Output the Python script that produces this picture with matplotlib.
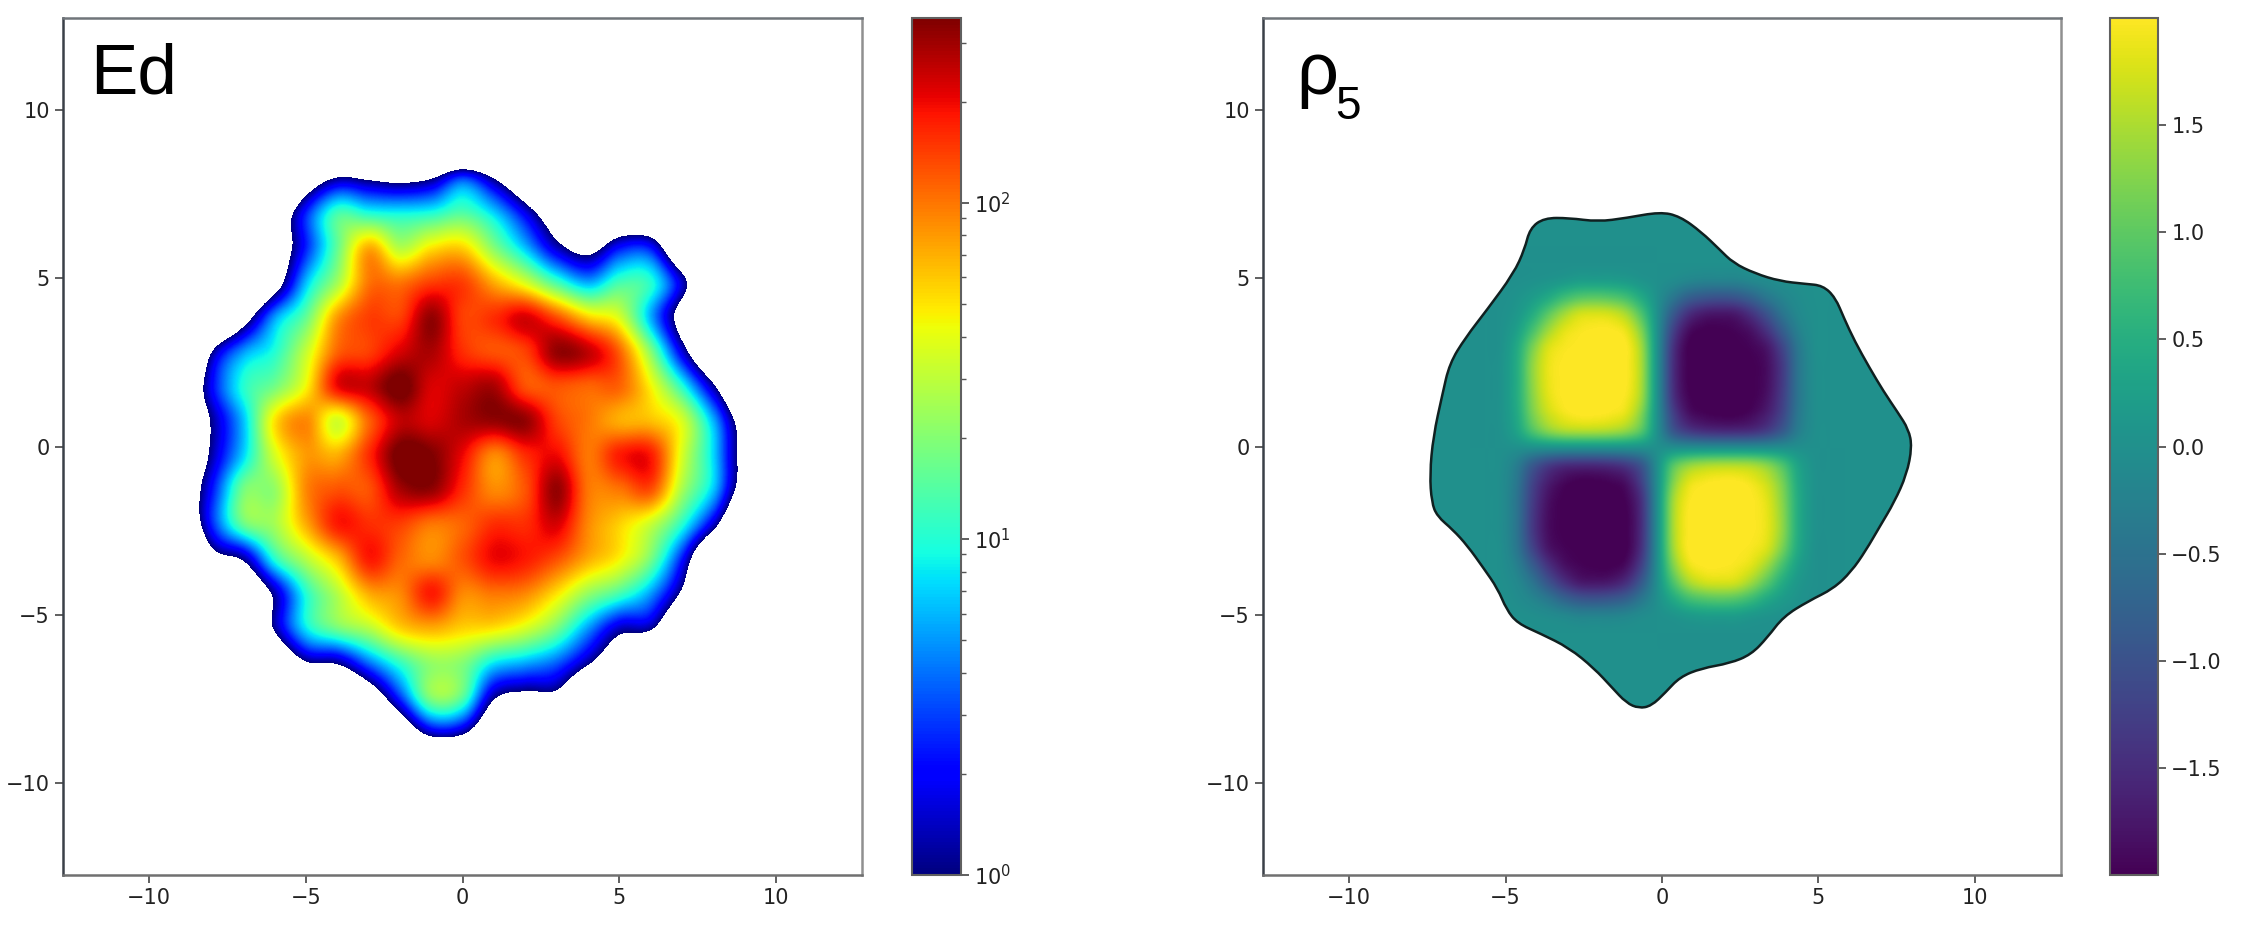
import numpy as np
import matplotlib
matplotlib.use("Agg")
import matplotlib.pyplot as plt
from matplotlib.colors import LogNorm, Normalize
from matplotlib.cm import ScalarMappable
from matplotlib.path import Path
from matplotlib.patches import PathPatch

W, H = 2250, 932
TICKS = [-10, -5, 0, 5, 10]
AX_LIM = 12.75

# log10(Ed), x = -9..9, rows from the top of the field down
edLog10 = [
    [-1.5, -1.5, -1.5, -1.5, -1.5, -1.5, -1.5, -1.5, -1.5, -1.5, -1.5, -1.5, -1.5, -1.5, -1.5, -1.5, -1.5, -1.5, -1.5],
    [-1.5, -1.5, -1.5, -1.5, -0.5, 0.05, -0.05, -0.15, 0.0, 0.5, 0.0, -0.7, -1.5, -1.5, -1.5, -1.5, -1.5, -1.5, -1.5],
    [-1.5, -1.5, -1.5, -0.6, 0.4, 1.1, 1.0, 0.95, 1.0, 1.15, 0.85, 0.25, -0.5, -1.2, -0.8, -0.9, -1.5, -1.5, -1.5],
    [-1.5, -1.5, -1.3, -0.5, 0.4, 1.2, 1.85, 1.45, 1.7, 1.75, 1.3, 0.8, 0.15, -0.2, 0.35, 0.35, -0.8, -1.5, -1.5],
    [-1.5, -1.5, -1.2, -0.3, 0.8, 1.4, 2.0, 2.0, 2.15, 2.15, 1.85, 1.55, 1.1, 0.75, 1.1, 1.0, 0.15, -1.0, -1.5],
    [-1.5, -1.2, -0.3, 0.7, 1.2, 1.9, 2.15, 2.15, 2.5, 2.15, 2.2, 2.35, 2.1, 1.75, 1.55, 0.75, -0.3, -1.5, -1.5],
    [-1.5, 0.0, 0.7, 1.0, 1.5, 2.05, 2.15, 2.35, 2.45, 2.2, 2.1, 2.15, 2.5, 2.4, 2.05, 1.3, 0.2, -0.9, -1.5],
    [-0.8, 0.3, 1.0, 1.25, 1.65, 2.3, 2.4, 2.6, 2.35, 2.4, 2.45, 2.1, 2.1, 2.05, 2.05, 1.65, 1.0, 0.05, -1.0],
    [-0.8, 0.05, 0.8, 1.7, 1.95, 1.55, 2.05, 2.4, 2.35, 2.45, 2.5, 2.5, 2.15, 2.0, 1.85, 1.8, 1.55, 0.75, -0.3],
    [-0.8, 0.1, 0.85, 1.55, 1.9, 1.85, 2.2, 2.6, 2.55, 2.3, 1.95, 2.2, 2.3, 2.0, 2.25, 2.25, 1.55, 0.85, -0.2],
    [-0.5, 0.35, 1.25, 1.35, 1.95, 2.1, 2.1, 2.45, 2.5, 2.2, 1.95, 2.1, 2.5, 2.0, 2.0, 2.1, 1.4, 0.8, -0.3],
    [-0.7, 0.4, 1.2, 1.4, 1.85, 2.25, 2.2, 2.15, 2.0, 2.05, 2.2, 2.2, 2.35, 1.95, 1.75, 1.5, 1.0, 0.15, -1.0],
    [-1.5, -0.3, 0.05, 1.0, 1.45, 1.8, 2.25, 2.05, 1.95, 2.1, 2.3, 2.25, 2.1, 1.85, 1.65, 1.25, 0.35, -1.0, -1.5],
    [-1.5, -1.5, -0.8, 0.1, 1.0, 1.45, 1.85, 1.95, 2.25, 1.95, 2.0, 1.95, 1.7, 1.35, 1.1, 0.7, -0.1, -1.3, -1.5],
    [-1.5, -1.5, -1.0, 0.05, 0.9, 1.25, 1.45, 1.75, 1.85, 1.75, 1.7, 1.55, 1.25, 0.7, 0.15, 0.05, -0.9, -1.5, -1.5],
    [-1.5, -1.5, -1.5, -0.8, -0.05, 0.05, 0.6, 1.05, 1.35, 1.3, 0.9, 0.75, 0.55, 0.05, -0.6, -1.2, -1.5, -1.5, -1.5],
    [-1.5, -1.5, -1.5, -1.5, -1.5, -1.2, -0.5, 0.45, 1.3, 1.15, 0.05, -0.2, -0.2, -1.0, -1.5, -1.5, -1.5, -1.5, -1.5],
    [-1.5, -1.5, -1.5, -1.5, -1.5, -1.5, -1.5, -0.6, 0.2, 0.1, -0.8, -1.5, -1.5, -1.5, -1.5, -1.5, -1.5, -1.5, -1.5],
    [-1.5, -1.5, -1.5, -1.5, -1.5, -1.5, -1.5, -1.5, -1.5, -1.5, -1.5, -1.5, -1.5, -1.5, -1.5, -1.5, -1.5, -1.5, -1.5],
]
ED_MIN, ED_MAX = 1.0, 355.0

# rho5 magnitude in one quadrant, away from the centre of the pattern, 0.5 steps
rhoQuadrant = [
    [0, 0, 0, 0, 0, 0, 0, 0, 0, 0, 0, 0],
    [0, 0.9, 1.3, 1.45, 1.5, 1.5, 1.45, 1.25, 0.85, 0.3, 0.03, 0],
    [0, 1.2, 1.8, 1.95, 2, 2, 1.9, 1.65, 1.15, 0.4, 0.05, 0],
    [0, 1.4, 1.95, 2, 2, 2, 2, 1.8, 1.25, 0.45, 0.05, 0],
    [0, 1.45, 2, 2, 2, 2, 2, 1.85, 1.3, 0.45, 0.05, 0],
    [0, 1.45, 2, 2, 2, 2, 2, 1.85, 1.3, 0.45, 0.05, 0],
    [0, 1.4, 2, 2, 2, 2, 1.95, 1.75, 1.15, 0.4, 0.03, 0],
    [0, 1.2, 1.85, 2, 2, 1.95, 1.8, 1.4, 0.8, 0.25, 0.02, 0],
    [0, 0.85, 1.45, 1.7, 1.75, 1.7, 1.4, 0.95, 0.45, 0.12, 0.01, 0],
    [0, 0.4, 0.75, 0.9, 0.95, 0.9, 0.7, 0.4, 0.18, 0.05, 0, 0],
    [0, 0.06, 0.15, 0.2, 0.2, 0.2, 0.12, 0.06, 0.02, 0, 0, 0],
    [0, 0, 0, 0, 0, 0, 0, 0, 0, 0, 0, 0],
]
RHO_CENTER = (-0.17, -0.05)
RHO_LIM = 2.0

boundaryX = [-0.06, 0.57, 1.26, 1.83, 2.28, 2.97, 3.77, 4.57, 5.14, 5.54, 5.82, 6.16, 6.62, 7.08, 7.53,
             7.88, 7.99, 7.82, 7.42, 6.96, 6.51, 6.05, 5.48, 4.68, 3.88, 3.37, 2.85, 2.17, 1.26, 0.57,
             0.11, -0.34, -0.74, -1.14, -1.60, -2.17, -2.97, -3.88, -4.62, -4.97, -5.25, -5.71, -6.22,
             -6.68, -7.19, -7.36, -7.42, -7.31, -7.02, -6.79, -6.28, -5.59, -4.74, -4.39, -4.22, -3.77,
             -2.97, -2.05, -1.14]
boundaryY = [6.98, 6.85, 6.38, 5.87, 5.46, 5.15, 4.92, 4.84, 4.79, 4.43, 3.81, 3.13, 2.36, 1.64, 1.02,
             0.51, -0.01, -0.83, -1.66, -2.38, -3.10, -3.72, -4.23, -4.60, -5.06, -5.68, -6.19, -6.45,
             -6.60, -6.86, -7.32, -7.72, -7.79, -7.63, -7.17, -6.60, -5.99, -5.57, -5.26, -4.85, -4.23,
             -3.61, -2.95, -2.48, -2.07, -1.66, -0.83, 0.30, 1.54, 2.47, 3.24, 4.07, 5.15, 5.87, 6.49,
             6.80, 6.80, 6.69, 6.80]


def makeAxes(fig, left, right, top=18, bottom=875):
    return fig.add_axes([left / W, 1 - bottom / H, (right - left) / W, (bottom - top) / H])


def styleMain(ax):
    ax.set_xlim(-AX_LIM, AX_LIM)
    ax.set_ylim(-AX_LIM, AX_LIM)
    ax.set_xticks(TICKS)
    ax.set_yticks(TICKS)
    ax.tick_params(labelsize=15, length=6, width=1.2, color="#444444", labelcolor="#222222")
    for side, col in (("left", "#3a4048"), ("top", "#70757a"), ("right", "#909090"), ("bottom", "#707070")):
        ax.spines[side].set_color(col)
        ax.spines[side].set_linewidth(1.8)


def styleCbar(cbar):
    cbar.ax.tick_params(which="major", labelsize=15, length=6, width=1.2, color="#444444", labelcolor="#222222")
    cbar.ax.tick_params(which="minor", length=3.5, width=1, color="#555555")
    cbar.outline.set_edgecolor("#606060")
    cbar.outline.set_linewidth(1.5)


def closedSplinePath(xs, ys):
    pts = np.column_stack((xs, ys))
    mids = (pts + np.roll(pts, -1, axis=0)) / 2
    verts = [mids[-1]]
    codes = [Path.MOVETO]
    for ctrl, mid in zip(pts, mids):
        verts.extend((ctrl, mid))
        codes.extend((Path.CURVE3, Path.CURVE3))
    return Path(np.asarray(verts), codes)


fig = plt.figure(figsize=(W / 100, H / 100), dpi=100)

# left panel
ax1 = makeAxes(fig, 63, 862)
jet = plt.get_cmap("jet").copy()
jet.set_under("white")
ax1.imshow(np.asarray(edLog10), cmap=jet, vmin=np.log10(ED_MIN), vmax=np.log10(ED_MAX), aspect="auto",
           extent=(-9.5, 9.5, -10.05, 9.48), origin="upper", interpolation="catrom", interpolation_stage="data")
styleMain(ax1)
ax1.text(-11.9, 10.5, "Ed", fontsize=51, family="Liberation Sans", color="black")
cax1 = makeAxes(fig, 912, 961)
cbar1 = fig.colorbar(ScalarMappable(LogNorm(ED_MIN, ED_MAX), "jet"), cax=cax1)
styleCbar(cbar1)

# right panel
ax2 = makeAxes(fig, 1263, 2061)
quad = np.asarray(rhoQuadrant, dtype=float)
upper = np.hstack((np.fliplr(quad)[:, :-1], -quad))
rhoGrid = np.pad(np.vstack((np.flipud(upper)[:-1], -upper)), 8)
half = (rhoGrid.shape[0] - 1) / 2 * 0.5
extent = (RHO_CENTER[0] - half - 0.25, RHO_CENTER[0] + half + 0.25,
          RHO_CENTER[1] - half - 0.25, RHO_CENTER[1] + half + 0.25)
img = ax2.imshow(rhoGrid, cmap="viridis", vmin=-RHO_LIM, vmax=RHO_LIM, aspect="auto", extent=extent,
                 origin="upper", interpolation="catrom", interpolation_stage="data")
outline = PathPatch(closedSplinePath(boundaryX, boundaryY), facecolor="none", edgecolor="#102020", linewidth=1.8,
                    transform=ax2.transData, zorder=3)
ax2.add_patch(outline)
img.set_clip_path(outline)
styleMain(ax2)
ax2.text(-11.7, 10.5, "ρ", fontsize=53, family="Liberation Sans", color="black")
ax2.text(-10.45, 9.75, "5", fontsize=33, family="Liberation Sans", color="black")
cax2 = makeAxes(fig, 2110, 2158)
cbar2 = fig.colorbar(ScalarMappable(Normalize(-RHO_LIM, RHO_LIM), "viridis"), cax=cax2,
                     ticks=[-1.5, -1.0, -0.5, 0.0, 0.5, 1.0, 1.5])
styleCbar(cbar2)

fig.savefig("out.png", dpi=100, facecolor="white")
